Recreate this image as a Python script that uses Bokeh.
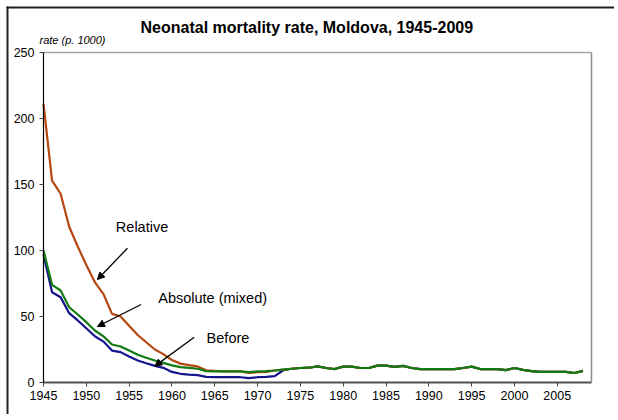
from bokeh.plotting import figure
from bokeh.models import Label, Arrow, NormalHead, FixedTicker, Range1d, LinearAxis
from bokeh.embed import file_html
from bokeh.resources import INLINE

years = list(range(1945, 2009))

relative = [211, 153, 143, 118, 103, 89, 76, 67, 52, 50,
            43, 36, 30.5, 25, 21.5, 17, 14.3, 13.2, 12.2, 9.3,
            8.8, 8.5, 8.5, 8.4, 7.2, 7.8, 8.0, 9.1, 9.8, 10.4,
            11.0, 11.2, 12.2, 11.0, 10.2, 12.0, 12.0, 11.0, 11.0, 12.8,
            12.8, 11.8, 12.6, 11.0, 10.2, 10.2, 10.2, 10.2, 10.2, 11.0,
            12.0, 10.2, 10.2, 10.2, 9.4, 11.0, 9.6, 8.6, 8.1, 8.1,
            8.1, 8.0, 7.2, 8.8]

absolute = [100, 74, 69.7, 57, 51.5, 45.7, 39.4, 35, 28.8, 27.3,
            24.2, 21, 18.7, 16.7, 14.9, 13.0, 11.6, 11.1, 10.4, 8.6,
            8.5, 8.5, 8.5, 8.4, 7.9, 8.4, 8.6, 9.1, 9.8, 10.4,
            11.0, 11.2, 12.2, 11.0, 10.2, 12.0, 12.0, 11.0, 11.0, 12.8,
            12.8, 11.8, 12.6, 11.0, 10.2, 10.2, 10.2, 10.2, 10.2, 11.0,
            12.0, 10.2, 10.2, 10.2, 9.4, 11.0, 9.6, 8.6, 8.1, 8.1,
            8.1, 8.0, 7.2, 8.8]

before = [97, 68.4, 64.6, 52.5, 47, 41.1, 35, 31, 24.2, 23,
          19.7, 16.7, 14.6, 12.6, 11.1, 8.0, 6.6, 6.0, 5.6, 4.3,
          4.0, 4.0, 4.0, 4.0, 3.3, 4.0, 4.3, 4.8, 9.3, 10.4,
          11.0, 11.2, 12.2, 11.0, 10.2, 12.0, 12.0, 11.0, 11.0, 12.8,
          12.8, 11.8, 12.6, 11.0, 10.2, 10.2, 10.2, 10.2, 10.2, 11.0,
          12.0, 10.2, 10.2, 10.2, 9.4, 11.0, 9.6, 8.6, 8.1, 8.1,
          8.1, 8.0, 7.2, 8.8]

x_ticks = [1945, 1950, 1955, 1960, 1965, 1970, 1975, 1980, 1985, 1990, 1995, 2000, 2005]
y_ticks = [0, 50, 100, 150, 200, 250]

title_text = "Neonatal mortality rate, Moldova, 1945-2009"
y_label_text = "rate (p. 1000)"

# annotations: (text, text x, text y (middle), arrow start x, start y, end x, end y)
notes = [
    ("Relative", 1953.45, 117.7, 1954.8, 101.7, 1951.3, 78.0),
    ("Absolute (mixed)", 1958.4, 64.2, 1956.4, 59.1, 1951.3, 42.4),
    ("Before", 1964.05, 33.7, 1962.6, 34.3, 1958.0, 12.4),
]

FONT = "Liberation Sans"
W, H = 614, 414
# pixel layout of the plot area inside the canvas
FRAME_L, FRAME_R, AXIS_Y0, AXIS_Y250 = 43, 591, 382, 52
X0, X1, Y0, Y1 = 1945, 2009, 0, 250
PX_X = (FRAME_R - FRAME_L) / (X1 - X0)
PX_Y = (AXIS_Y0 - AXIS_Y250) / (Y1 - Y0)

def xv(px):
    return X0 + (px - FRAME_L) / PX_X

def yv(py):
    return Y0 + (AXIS_Y0 - py) / PX_Y

# the frame fills the whole canvas; axes are pinned inside it
p = figure(width=W, height=H,
           x_range=Range1d(xv(0), xv(W)), y_range=Range1d(yv(H), yv(0)),
           output_backend="svg", toolbar_location=None,
           min_border_left=0, min_border_right=0,
           min_border_top=0, min_border_bottom=0)
p.title.visible = False
p.background_fill_color = "white"
p.border_fill_color = "white"
p.outline_line_color = None
p.xgrid.visible = False
p.ygrid.visible = False

xax = p.xaxis[0]
yax = p.yaxis[0]
xax.fixed_location = Y0
xax.bounds = (X0, X1)
yax.fixed_location = X0
yax.bounds = (Y0, Y1)

for ax in (xax, yax):
    ax.major_tick_out = 4
    ax.major_tick_in = 0
    ax.minor_tick_out = 0
    ax.minor_tick_in = 0
    ax.major_label_text_font = FONT
    ax.major_label_text_font_size = "12.5px"
    ax.major_label_text_color = "black"
    ax.major_tick_line_color = "#404040"

xax.ticker = FixedTicker(ticks=x_ticks)
yax.ticker = FixedTicker(ticks=y_ticks)
xax.axis_line_color = "#505050"
xax.axis_line_width = 1.8
yax.axis_line_color = "black"
yax.axis_line_width = 1.2
xax.major_label_standoff = 4
yax.major_label_standoff = 5


def plain_axis(loc, bounds, color, width):
    return LinearAxis(fixed_location=loc, bounds=bounds, ticker=FixedTicker(ticks=[]),
                      axis_line_color=color, axis_line_width=width,
                      major_tick_line_color=None, minor_tick_line_color=None)


# plot-area border: gray top and right edges
p.add_layout(plain_axis(X1, (Y0, Y1), "#8c8c8c", 1.5), "right")
p.add_layout(plain_axis(Y1, (X0, X1), "#a6a6a6", 1.5), "above")
# outer chart-area border: only its top and left edges fall inside the window
p.add_layout(plain_axis(yv(7), (xv(6), xv(W + 10)), "#222222", 2), "above")
p.add_layout(plain_axis(xv(7), (yv(H + 10), yv(6)), "#222222", 2), "left")

p.line(years, before, line_color="#14148c", line_width=2.2)
p.line(years, relative, line_color="#b5470f", line_width=2.2)
p.line(years, absolute, line_color="#117a11", line_width=2.2)

for txt, tx, ty, sx, sy, ex, ey in notes:
    p.add_layout(Label(x=tx, y=ty, text=txt, text_font=FONT, text_font_size="14.5px",
                       text_align="left", text_baseline="middle", text_color="black"))
    p.add_layout(Arrow(x_start=sx, y_start=sy, x_end=ex, y_end=ey, line_color="black",
                       line_width=1.3,
                       end=NormalHead(size=7, fill_color="black", line_color="black")))

p.add_layout(Label(x=1975.75, y=268.8, text=title_text, text_font=FONT,
                   text_font_size="16px", text_font_style="bold", text_align="center",
                   text_baseline="middle", text_color="black"))
p.add_layout(Label(x=1944.53, y=259.6, text=y_label_text, text_font=FONT,
                   text_font_size="11px", text_font_style="italic", text_align="left",
                   text_baseline="middle", text_color="black"))

open("out.html", "w").write(file_html(p, INLINE))
